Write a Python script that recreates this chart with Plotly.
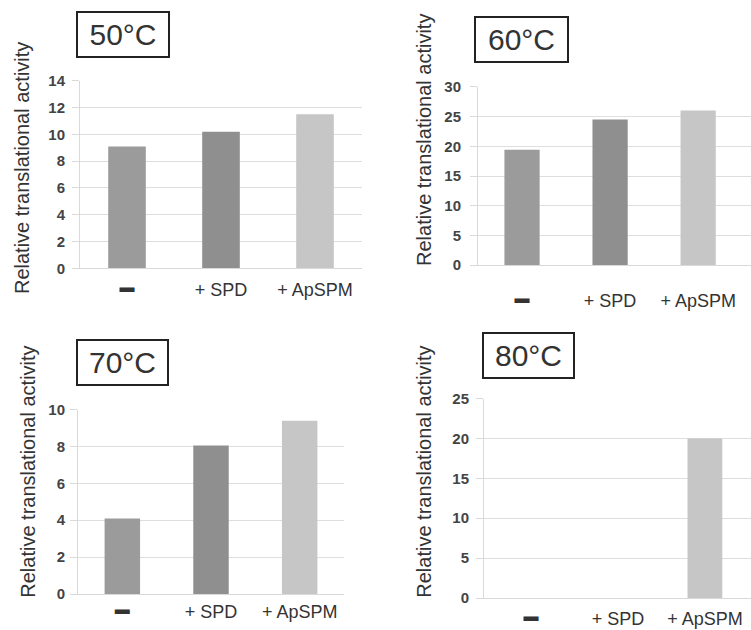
import plotly.graph_objects as go

categories = ["-", "+ SPD", "+ ApSPM"]
tick_labels = ['<span style="font-size:15px;baseline-shift:4px">▬</span>', "+ SPD", "+ ApSPM"]
panel_titles = ["50°C", "60°C", "70°C", "80°C"]
values_50 = [9.1, 10.2, 11.5]
values_60 = [19.4, 24.5, 26.0]
values_70 = [4.1, 8.05, 9.4]
values_80 = [0, 0, 20.0]
y_max = [14, 30, 10, 25]
y_step = [2, 5, 2, 5]
y_title = "Relative translational activity"

bar_colors = ["#9b9b9b", "#8f8f8f", "#c6c6c6"]
FONT = "Liberation Sans, Arial, Helvetica, sans-serif"
W, H = 751, 630
# vertical calibration between layout pixels and the captured picture
SY, OY = 0.9707, 9.37


def px(x):
    return x / W


def ly(y):
    return (y - OY) / SY


def py(y):
    return 1 - ly(y) / H


# layout geometry in picture pixels
panels = [
    dict(x0=80, x1=362, y0=81, y1=268, xr=[-0.5, 2.5], box=(76, 11, 92, 46), ytl=(22, 168), xstand=5, ystand=4),
    dict(x0=478, x1=751, y0=87, y1=265, xr=[-0.5, 2.6], box=(474, 16, 93, 46), ytl=(424, 140), xstand=19, ystand=6),
    dict(x0=78, x1=344, y0=409, y1=593, xr=[-0.5, 2.5], box=(76, 339, 91, 46), ytl=(28, 471), xstand=1, ystand=2),
    dict(x0=484, x1=751, y0=398, y1=597, xr=[-0.54, 2.53], box=(482, 332, 91, 46), ytl=(424, 471), xstand=4, ystand=4),
]
all_values = [values_50, values_60, values_70, values_80]

fig = go.Figure()
annotations = []
for i, (p, vals) in enumerate(zip(panels, all_values)):
    n = "" if i == 0 else str(i + 1)
    fig.add_trace(go.Bar(
        x=categories, y=vals, xaxis="x" + n, yaxis="y" + n,
        marker=dict(color=bar_colors, line=dict(width=0)),
        showlegend=False, hoverinfo="x+y",
    ))
    fig.layout["xaxis" + n] = dict(
        domain=[px(p["x0"]), px(p["x1"])], anchor="y" + n,
        type="category", range=p["xr"],
        tickvals=categories, ticktext=tick_labels,
        showline=True, linecolor="#d9d9d9", linewidth=1,
        ticks="", ticklen=0, showgrid=False, zeroline=False,
        tickfont=dict(family=FONT, size=18, color="#333333"),
        ticklabelstandoff=p["xstand"], fixedrange=True,
    )
    fig.layout["yaxis" + n] = dict(
        domain=[py(p["y1"]), py(p["y0"])], anchor="x" + n,
        range=[0, y_max[i]], dtick=y_step[i], tick0=0,
        showline=True, linecolor="#d9d9d9", linewidth=1,
        ticks="outside", ticklen=7, tickcolor="#d9d9d9", tickwidth=1,
        showgrid=True, gridcolor="#dedede", gridwidth=1, zeroline=False,
        tickfont=dict(family=FONT, size=15, color="#444444", weight="bold"),
        ticklabelstandoff=p["ystand"], fixedrange=True,
    )
    bx, by, bw, bh = p["box"]
    annotations.append(dict(
        text=panel_titles[i], xref="paper", yref="paper",
        x=px(bx), y=py(by), xanchor="left", yanchor="top",
        width=bw - 2, height=round(bh / SY) - 4, borderpad=0,
        bordercolor="#222222", borderwidth=2, showarrow=False,
        font=dict(family=FONT, size=30, color="#333333"),
        align="center", valign="middle", bgcolor="white",
    ))
    tx, ty = p["ytl"]
    annotations.append(dict(
        text=y_title, xref="paper", yref="paper",
        x=px(tx), y=py(ty), xanchor="center", yanchor="middle",
        textangle=-90, showarrow=False,
        font=dict(family=FONT, size=20, color="#333333"),
    ))

fig.update_layout(
    width=W, height=H, margin=dict(l=0, r=0, t=0, b=0),
    paper_bgcolor="white", plot_bgcolor="white",
    bargap=0.6, annotations=annotations,
    font=dict(family=FONT),
)

fig.write_html(
    "out.html",
    config={"displayModeBar": False},
    post_script="document.body.style.margin='0';document.documentElement.style.overflow='hidden';",
)
